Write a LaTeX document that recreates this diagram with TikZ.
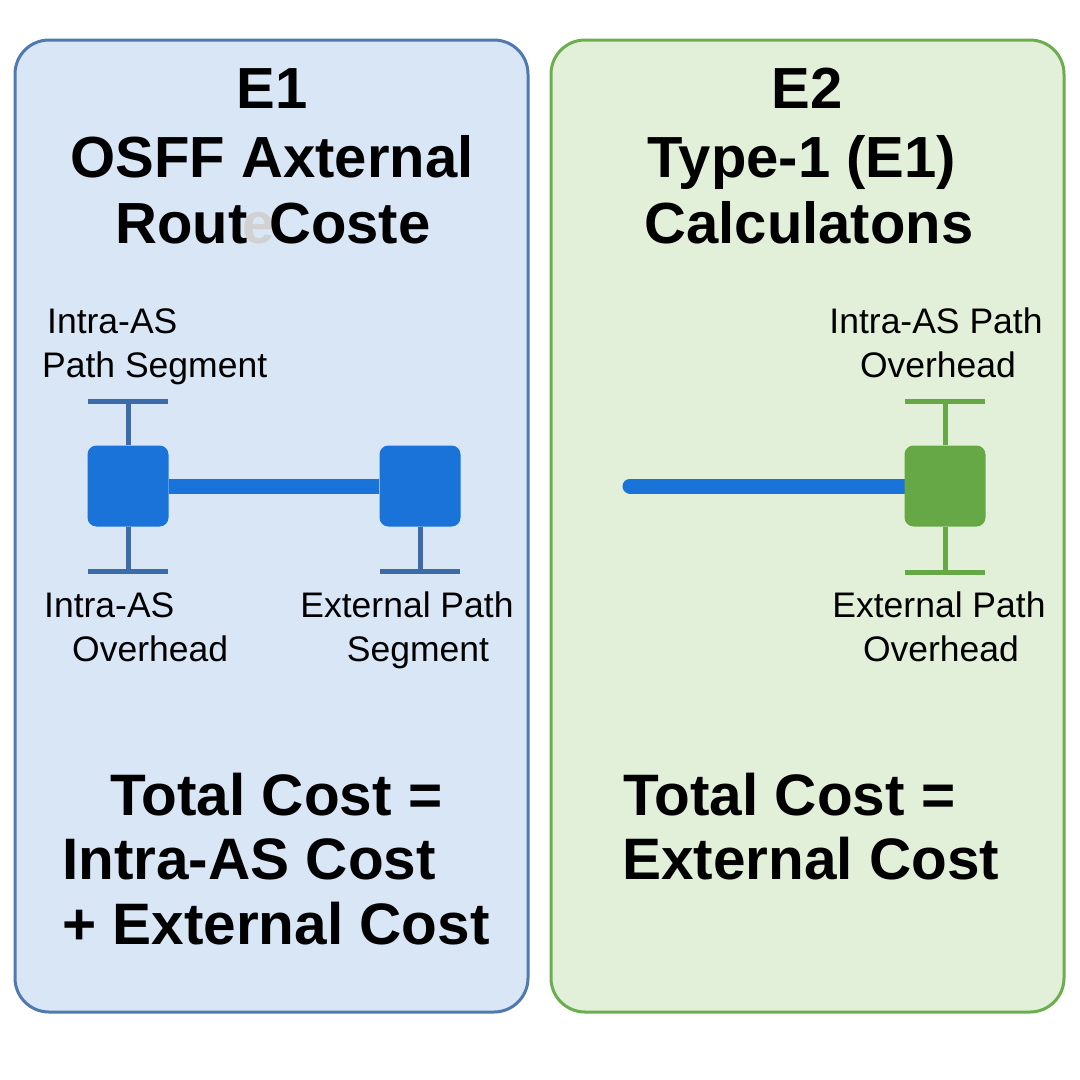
\documentclass[tikz,border=0pt]{standalone}
\usepackage{fontspec}
\setmainfont{Liberation Sans}
\usetikzlibrary{positioning}

\definecolor{eoneline}{HTML}{5079B0}
\definecolor{eonefill}{HTML}{D8E6F6}
\definecolor{etwoline}{HTML}{6CAE4E}
\definecolor{etwofill}{HTML}{E2F0DA}
\definecolor{routerblue}{HTML}{1A73D8}
\definecolor{routergreen}{HTML}{67A846}
\definecolor{barblue}{HTML}{3B6CA9}

\pgfdeclarelayer{back}
\pgfsetlayers{back,main}

\tikzset{
  panel/.style={rounded corners=34pt, line width=3pt},
  router/.style={minimum size=81pt, rounded corners=9pt, inner sep=0pt},
  title/.style={font=\fontsize{58}{68}\selectfont\bfseries, anchor=base},
  tag/.style={font=\fontsize{35.5}{44}\selectfont, inner sep=0pt},
  total/.style={font=\fontsize{58.5}{64}\selectfont\bfseries, anchor=base west, inner sep=0pt},
  tbar/.style={line width=5pt},
  link/.style={line width=15pt, routerblue}
}

\begin{document}
\begin{tikzpicture}[x=1pt, y=-1pt]
		\useasboundingbox (0,0) rectangle (1080,1080);
		% panels
		\begin{pgfonlayer}{back}
		\fill[white] (0,0) rectangle (1080,1080);
		\draw[panel, draw=eoneline, fill=eonefill] (15,40) rectangle (528,1012);
		\draw[panel, draw=etwoline, fill=etwofill] (551,40) rectangle (1064,1012);
		\end{pgfonlayer}
		% E1 panel
		\node[title] (eonehead) at (272,108) {E1};
		\node[title] (eonename) at (272,177) {OSFF Axternal};
		\node[title] (eonesub) at (273,243) {Rout\kern-0.08em\textcolor{black!18}{e}\kern-0.1em Coste};
		\node[tag, anchor=base west] (intratop) at (47,333) {Intra-AS};
		\node[tag, anchor=base west] (pathtop) at (42,377) {Path Segment};
		\node[router, fill=routerblue] (asbr) at (128,486) {};
		\node[router, fill=routerblue] (extr) at (420,486) {};
		\draw[link] (asbr.east) -- (extr.west);
		\coordinate (asbrtop) at (128,401);
		\coordinate (asbrbot) at (128,571);
		\coordinate (extrbot) at (420,571);
		\draw[tbar, barblue] (asbr.north) -- (asbrtop);
		\draw[tbar, barblue] (asbrtop) ++(-40,0) -- ++(80,0);
		\draw[tbar, barblue] (asbr.south) -- (asbrbot);
		\draw[tbar, barblue] (asbrbot) ++(-40,0) -- ++(80,0);
		\draw[tbar, barblue] (extr.south) -- (extrbot);
		\draw[tbar, barblue] (extrbot) ++(-40,0) -- ++(80,0);
		\node[tag, anchor=base west] (intrabot) at (44,617) {Intra-AS};
		\node[tag, anchor=base west] (overbot) at (72,661) {Overhead};
		\node[tag, anchor=base] (extbot) at (407,617) {External Path};
		\node[tag, anchor=base] (segbot) at (418,661) {Segment};
		\node[total] (eonetotal) at (110,815) {Total Cost =};
		\node[total] (eoneintra) at (62,879) {Intra-AS Cost};
		\node[total] (eoneext) at (62,944) {+ External Cost};
		% E2 panel
		\node[title] (etwohead) at (807,108) {E2};
		\node[title] (etwoname) at (802,177) {Type-1 (E1)};
		\node[title] (etwosub) at (809,243) {Calculatons};
		\node[tag, anchor=base] (intrapath) at (936,333) {Intra-AS Path};
		\node[tag, anchor=base] (overtop) at (938,377) {Overhead};
		\coordinate (linestart) at (630,486);
		\node[router, fill=routergreen] (etwor) at (945,486) {};
		\begin{pgfonlayer}{back}
		\draw[link, line cap=round] (linestart) -- (etwor.center);
		\end{pgfonlayer}
		\coordinate (etwortop) at (945,401);
		\coordinate (etworbot) at (945,572);
		\draw[tbar, routergreen] (etwor.north) -- (etwortop);
		\draw[tbar, routergreen] (etwortop) ++(-40,0) -- ++(80,0);
		\draw[tbar, routergreen] (etwor.south) -- (etworbot);
		\draw[tbar, routergreen] (etworbot) ++(-40,0) -- ++(80,0);
		\node[tag, anchor=base] (extpath) at (939,617) {External Path};
		\node[tag, anchor=base] (overpath) at (941,661) {Overhead};
		\node[total] (etwototal) at (623,815) {Total Cost =};
		\node[total] (etwoext) at (622,879) {External Cost};
\end{tikzpicture}
\end{document}
